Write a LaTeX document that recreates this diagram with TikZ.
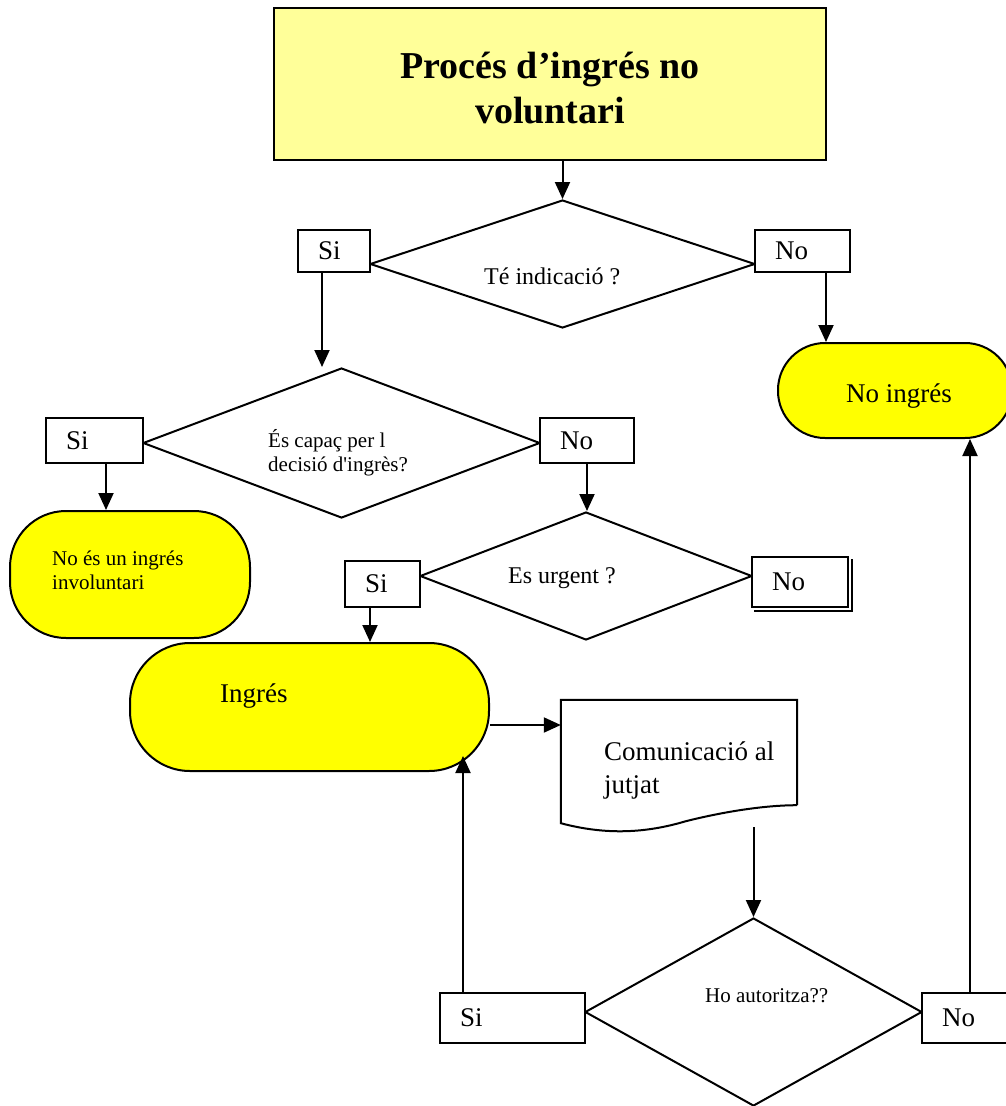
\documentclass[tikz,border=0pt]{standalone}
\usepackage{fontspec}
\setmainfont{Liberation Serif}[Ligatures=TeXOff]
\usetikzlibrary{arrows.meta,shapes.geometric,calc}
\definecolor{ylw}{HTML}{FFFF00}
\definecolor{lylw}{HTML}{FFFF99}
\tikzset{
  arr/.style={line width=2pt,-{Triangle[length=17pt,width=15pt]}},
  ansbox/.style={draw,line width=1.8pt,fill=white,inner xsep=20pt,inner ysep=0pt,align=left,font=\fontsize{27}{32}\selectfont},
  dec/.style={diamond,draw,line width=2pt,inner sep=0pt},
  term/.style={draw,line width=2pt,fill=ylw,inner sep=0pt},
  txt/.style={inner sep=0pt,anchor=base west,align=left},
  fA/.style={font=\fontsize{21}{24}\selectfont},
  fB/.style={font=\fontsize{24}{28}\selectfont},
  fC/.style={font=\fontsize{27}{33}\selectfont},
}
\begin{document}
\begin{tikzpicture}[x=1pt,y=-1pt]
\useasboundingbox (0,0) rectangle (1006,1106);
\clip (0,0) rectangle (1006,1106);

% title
\node[draw,line width=1.8pt,fill=lylw,minimum width=552pt,minimum height=152pt] (title) at (550,84) {};
\node[inner sep=0pt,align=center,font=\fontsize{38}{45}\selectfont\bfseries] (tt) at (550,88) {Procés d’ingrés no\\voluntari};

% decisions
\node[dec,minimum width=385pt,minimum height=128pt] (d1) at (562.5,264) {};
\node[dec,minimum width=397pt,minimum height=150pt] (d2) at (341.5,443) {};
\node[dec,minimum width=332pt,minimum height=128pt] (d3) at (586,576) {};
\node[dec,minimum width=337pt,minimum height=188pt] (d4) at (753.5,1012) {};

\node[txt,fB] (t1) at (484,284) {Té indicació ?};
\node[txt,fA] (t2) at (268,471) {És capaç per l\\decisió d'ingrès?};
\node[txt,fB] (t3) at (508,583) {Es urgent ?};
\node[txt,fA] (t4) at (705,1002) {Ho autoritza??};

% answer boxes
\node[ansbox,text width=32pt,minimum height=42pt] (si1) at (334,251) {Si};
\node[ansbox,text width=55pt,minimum height=42pt] (no1) at (802.5,251) {No};
\node[ansbox,text width=57pt,minimum height=45pt] (si2) at (94.5,440.5) {Si};
\node[ansbox,text width=54pt,minimum height=45pt] (no2) at (587,440.5) {No};
\node[ansbox,text width=35pt,minimum height=46pt] (si3) at (382.5,584) {Si};
\node[ansbox,text width=56pt,minimum height=50pt] (no3) at (800,582) {No};
\draw[line width=1.3pt] ($(no3.north east)+(3,3)$) -- ($(no3.south east)+(3,3)$) -- ($(no3.south west)+(3,3)$);
\node[ansbox,text width=105pt,minimum height=50pt] (si4) at (512.5,1018) {Si};
\node[ansbox,text width=50pt,minimum height=50pt] (no4) at (967,1018) {No};

% terminals
\node[term,rounded corners=47pt,minimum width=234pt,minimum height=95pt] (noing) at (895,390.5) {};
\node[txt,fC] (t8) at (846,402) {No ingrés};
\node[term,rounded corners=56pt,minimum width=240pt,minimum height=127pt] (noes) at (130,574.5) {};
\node[txt,fA] (t5) at (52,589) {No és un ingrés\\involuntari};
\node[term,rounded corners=60pt,minimum width=359pt,minimum height=128pt] (ing) at (309.5,707) {};
\node[txt,fC] (t6) at (220,702) {Ingrés};

% document
\node[minimum width=236pt,minimum height=105pt,inner sep=0pt] (doc) at (679,752.5) {};
\draw[line width=2pt,fill=white] (doc.south east) -- (doc.north east) -- (doc.north west)
  -- ($(doc.south west)+(0,18)$)
  .. controls ($(doc.south west)+(45,30)$) and ($(doc.south west)+(85,28)$) .. ($(doc.south west)+(125,16)$)
  .. controls ($(doc.south west)+(165,6)$) and ($(doc.south west)+(205,0)$) .. (doc.south east);
\node[txt,fC] (t7) at (604,793) {Comunicació al\\jutjat};
\coordinate (docb) at ($(doc.south)+(75,22)$);
\coordinate (ingin) at (463,756);

% connectors
\draw[arr] (title.south -| d1.north) -- (d1.north);
\draw[arr] ($(si1.south)+(-12,0)$) -- ($(si1.south |- d2.north)+(-12,0)$);
\draw[arr] ($(no1.south)+(23.5,0)$) -- ($(no1.south |- noing.north)+(23.5,0)$);
\draw[arr] ($(si2.south)+(11.5,0)$) -- ($(si2.south |- noes.north)+(11.5,0)$);
\draw[arr] (no2.south) -- (no2.south |- d3.north);
\draw[arr] ($(si3.south)+(-12.5,0)$) -- ($(si3.south |- ing.north)+(-12.5,0)$);
\draw[arr] ($(ing.east)+(0,18)$) -- ($(ing.east -| doc.west)+(0,18)$);
\draw[arr] (d4.north |- docb) -- (d4.north);
\draw[arr] (si4.north -| ingin) -- (ingin);
\draw[arr] ($(no4.north)+(3,0)$) -- ($(no4.north |- noing.south)+(3,0)$);
\end{tikzpicture}
\end{document}
